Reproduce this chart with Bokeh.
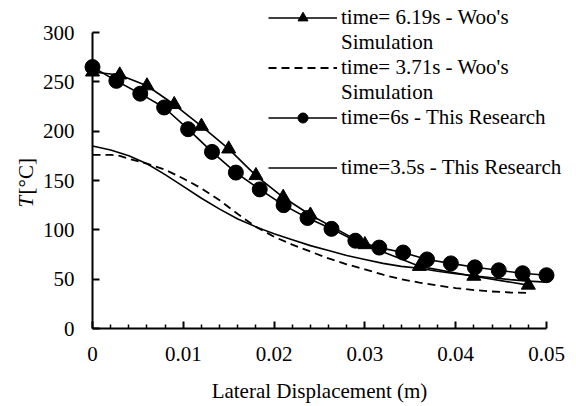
import math
from bokeh.plotting import figure
from bokeh.models import (Range1d, FixedTicker, NumeralTickFormatter, Legend,
                          LegendItem, Label, LinearAxis)
from bokeh.core.properties import value
from bokeh.embed import file_html
from bokeh.resources import INLINE

# Woo's simulation, t = 6.19 s (triangles)
woo_619_x = [0.0, 0.003, 0.006, 0.009, 0.012, 0.015, 0.018, 0.021, 0.024,
             0.030, 0.036, 0.042, 0.048]
woo_619_t = [260, 257, 246, 227, 205, 182, 155, 133, 115, 85, 63, 53, 44]

# Woo's simulation, t = 3.71 s (dashed)
woo_371_x = [0.0, 0.002, 0.003, 0.004, 0.006, 0.008, 0.010, 0.012, 0.014,
             0.016, 0.018, 0.020, 0.022, 0.024, 0.026, 0.028, 0.030, 0.032,
             0.034, 0.036, 0.038, 0.040, 0.042, 0.044, 0.046, 0.048]
woo_371_t = [176, 176, 175, 172, 167, 161, 152, 142, 130, 116, 103, 93, 85,
             78, 71, 65, 60, 54.5, 50, 46.5, 43.5, 41, 39, 37.5, 36.5, 36]

# This research, t = 6 s (circles)
res_6_x = [0.0, 0.00263, 0.00526, 0.00789, 0.01053, 0.01316, 0.01579,
           0.01842, 0.02105, 0.02368, 0.02632, 0.02895, 0.03158, 0.03421,
           0.03684, 0.03947, 0.04211, 0.04474, 0.04737, 0.05]
res_6_t = [265, 251, 238, 224, 202, 179, 158, 141, 125, 112, 101, 89, 82, 77,
           70, 66, 62, 59, 56, 54]

# This research, t = 3.5 s (solid)
res_35_x = [0.0, 0.002, 0.004, 0.006, 0.008, 0.010, 0.012, 0.014, 0.016,
            0.018, 0.020, 0.022, 0.024, 0.026, 0.028, 0.030, 0.032, 0.034,
            0.036, 0.038, 0.040, 0.042, 0.044, 0.046, 0.048, 0.050]
res_35_t = [185, 181, 175, 167, 156, 144, 132, 121, 111, 103, 96, 90, 84, 79,
            74, 70, 66, 63, 61, 58, 55.5, 53.5, 51.5, 49.5, 48, 47]

x_ticks = [0.0, 0.01, 0.02, 0.03, 0.04, 0.05]
x_minor = [0.002, 0.004, 0.006, 0.008, 0.012, 0.014, 0.016, 0.018, 0.022,
           0.024, 0.026, 0.028, 0.032, 0.034, 0.036, 0.038, 0.042, 0.044,
           0.046, 0.048]
y_ticks = [0, 50, 100, 150, 200, 250, 300]

FONT = "Liberation Serif"
FS = "21px"

W, H = 576, 406
# pixel placement of the axes inside the canvas
AX_LEFT, AX_RIGHT = 92, 546      # x = 0 and x = 0.05
AX_TOP, AX_BOTTOM = 32, 328      # T = 300 and T = 0
X0, X1 = 0.0, 0.05
Y0, Y1 = 0.0, 300.0

# the data frame fills the whole canvas; the axes sit at fixed positions in it
sx = (X1 - X0) / (AX_RIGHT - AX_LEFT)
sy = (Y1 - Y0) / (AX_BOTTOM - AX_TOP)
x_range = Range1d(X0 - AX_LEFT * sx, X1 + (W - AX_RIGHT) * sx)
y_range = Range1d(Y0 - (H - AX_BOTTOM) * sy, Y1 + AX_TOP * sy)

p = figure(width=W, height=H, x_range=x_range, y_range=y_range,
           x_axis_location=None, y_axis_location=None,
           output_backend="svg", toolbar_location=None,
           min_border=0)
p.outline_line_color = None
p.grid.visible = False
p.background_fill_color = "white"
p.border_fill_color = "white"

xaxis = LinearAxis(fixed_location=Y0, bounds=(X0, X1),
                   ticker=FixedTicker(ticks=x_ticks, minor_ticks=x_minor),
                   formatter=NumeralTickFormatter(format="0.[00]"),
                   axis_label="Lateral Displacement (m)",
                   axis_label_standoff=15, major_label_standoff=18,
                   minor_tick_in=4, minor_tick_out=0,
                   minor_tick_line_width=1.5)
yaxis = LinearAxis(fixed_location=X0, bounds=(Y0, Y1),
                   ticker=FixedTicker(ticks=y_ticks),
                   major_label_standoff=18,
                   minor_tick_line_color=None)
for ax in (xaxis, yaxis):
    ax.axis_line_width = 2
    ax.axis_line_color = "black"
    ax.major_tick_in = 7
    ax.major_tick_out = 0
    ax.major_tick_line_width = 2
    ax.major_tick_line_color = "black"
    ax.major_label_text_font = FONT
    ax.major_label_text_font_size = FS
    ax.major_label_text_color = "black"
    ax.axis_label_text_font = FONT
    ax.axis_label_text_font_size = FS
    ax.axis_label_text_font_style = "normal"
    ax.axis_label_text_color = "black"
p.add_layout(xaxis, "below")
p.add_layout(yaxis, "left")

# y-axis title: italic T followed by the unit, reading upwards
p.add_layout(Label(x=25, y=H - 207, x_units="screen", y_units="screen",
                   text="T", angle=math.pi / 2, text_align="left",
                   text_baseline="middle", text_font=FONT,
                   text_font_size=FS, text_font_style="italic",
                   text_color="black"))
p.add_layout(Label(x=25, y=H - 194, x_units="screen", y_units="screen",
                   text="[°C]", angle=math.pi / 2, text_align="left",
                   text_baseline="middle", text_font=FONT,
                   text_font_size=FS, text_color="black"))

# series
tri_line = p.line(woo_619_x, woo_619_t, line_color="black", line_width=1.6)
tri_pts = p.scatter(woo_619_x, woo_619_t, marker="triangle", size=14,
                    fill_color="black", line_color="black")
dash_line = p.line(woo_371_x, woo_371_t, line_color="black", line_width=1.8,
                   line_dash="8 5")
circ_line = p.line(res_6_x, res_6_t, line_color="black", line_width=1.6)
circ_pts = p.scatter(res_6_x, res_6_t, marker="circle", size=15,
                     fill_color="black", line_color="black")
sol_line = p.line(res_35_x, res_35_t, line_color="black", line_width=1.6)

# invisible renderer for the wrapped second lines of legend labels
blank = p.line(x=[], y=[], line_alpha=0)

legend = Legend(items=[
    LegendItem(label=value("time= 6.19s - Woo's"), renderers=[tri_line, tri_pts]),
    LegendItem(label=value("Simulation"), renderers=[blank]),
    LegendItem(label=value("time= 3.71s - Woo's"), renderers=[dash_line]),
    LegendItem(label=value("Simulation"), renderers=[blank]),
    LegendItem(label=value("time=6s - This Research"), renderers=[circ_line, circ_pts]),
    LegendItem(label=value(" "), renderers=[blank]),
    LegendItem(label=value("time=3.5s - This Research"), renderers=[sol_line]),
], location=(268, H - 5 - 7 * 25))
legend.glyph_width = 69
legend.glyph_height = 25
legend.label_height = 25
legend.label_standoff = 4
legend.spacing = 0
legend.padding = 0
legend.margin = 0
legend.border_line_color = None
legend.background_fill_alpha = 0
legend.label_text_font = FONT
legend.label_text_font_size = FS
legend.label_text_color = "black"
p.add_layout(legend)

open("out.html", "w").write(file_html(p, INLINE))
